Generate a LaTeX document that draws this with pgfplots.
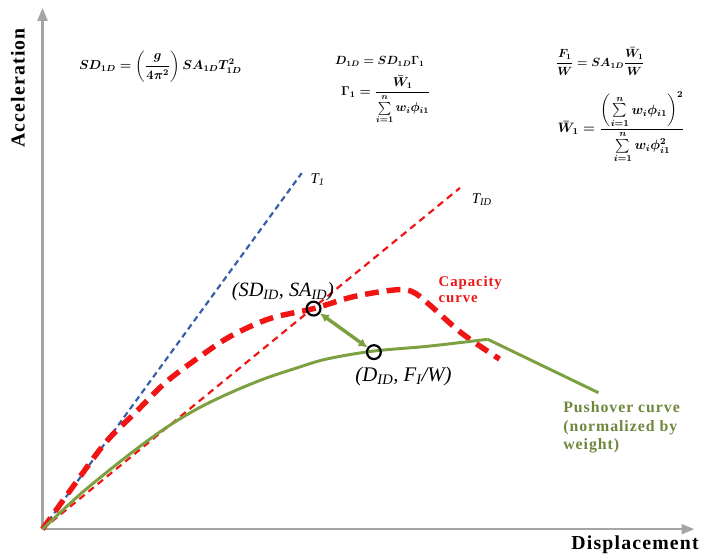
\documentclass[border=0pt]{standalone}
\usepackage{amsmath}
\usepackage{fontspec}
\setmainfont{Liberation Serif}
\usepackage{pgfplots}
\pgfplotsset{compat=1.18}
\usetikzlibrary{arrows.meta}
\newfontfamily\lblfont{Liberation Serif}[LetterSpace=6]
\definecolor{axgray}{RGB}{165,165,165}
\definecolor{cblue}{RGB}{55,95,165}
\definecolor{cred}{RGB}{240,20,20}
\definecolor{cgreen}{RGB}{125,160,65}
\definecolor{tgreen}{RGB}{110,135,60}
\begin{document}
\begin{tikzpicture}
\begin{axis}[
  scale only axis, width=659pt, height=527pt,
  xmin=0, xmax=659, ymin=0, ymax=527,
  axis lines=left,
  axis line style={draw=axgray, line width=2.5pt, -{Triangle[length=13pt,width=10pt]}},
  every outer x axis line/.append style={-{Triangle[length=13pt,width=10pt]}},
  every outer y axis line/.append style={-{Triangle[length=13pt,width=10pt]}},
  xtick=\empty, ytick=\empty,
  clip=false,
]
\path (axis cs:-43,-27) rectangle (axis cs:659,535);
% T1 line
\addplot[cblue, line width=2.2pt, dash pattern=on 6pt off 4pt] coordinates {(0,0) (262,360)};
% T1D line
\addplot[cred, line width=2.2pt, dash pattern=on 7pt off 5pt] coordinates {(0,0) (422,345)};
% capacity curve
\addplot[cred, line width=5.5pt, dash pattern=on 14pt off 8pt, smooth, tension=0.55] coordinates {
(0,0) (30,42) (64,88) (94,118) (124,148) (157,173) (190,195) (230,213) (274,223) (314,235) (357,242) (374,240) (390,228) (424,198) (462,172)};
% pushover curve
\addplot[cgreen, line width=3pt, smooth, tension=0.55] coordinates {
(0,0) (40,37) (87,75) (124,102) (157,122) (190,138) (224,152) (257,163) (287,172) (334,180) (390,185) (450,192)};
\addplot[cgreen, line width=3pt] coordinates {(450,192) (562,138)};
% double arrow
\addplot[cgreen, line width=3.5pt, {Latex[length=9pt,width=9pt]}-{Latex[length=9pt,width=9pt]}, shorten <=8pt, shorten >=8pt] coordinates {(274,223) (335,179)};
% circles
\addplot[only marks, mark=o, mark size=7pt, mark options={line width=2.2pt, draw=black}] coordinates {(274,223) (335,179)};
% labels
\node[font=\fontsize{15}{18}\selectfont\itshape] at (axis cs:278,353) {T\textsubscript{\textit{1}}};
\node[font=\fontsize{15}{18}\selectfont\itshape] at (axis cs:444,333) {T\textsubscript{\textit{ID}}};
\node[font=\fontsize{20.5}{24}\selectfont\itshape] at (axis cs:243,240) {(SD\textsubscript{\textit{ID}}, SA\textsubscript{\textit{ID}})};
\node[font=\fontsize{21}{24}\selectfont\itshape] at (axis cs:365,154) {(D\textsubscript{\textit{ID}}, F\textsubscript{\textit{I}}/W)};
\node[anchor=west, align=left, text=cred, font=\lblfont\fontsize{15}{16}\selectfont\bfseries] at (axis cs:397,242) {Capacity\\curve};
\node[anchor=west, align=left, text=tgreen, font=\lblfont\fontsize{16}{19}\selectfont\bfseries] at (axis cs:523,103) {Pushover curve\\(normalized by\\weight)};
\node[rotate=90, font=\lblfont\fontsize{20}{24}\selectfont\bfseries] at (axis cs:-25,446) {Acceleration};
\node[font=\lblfont\fontsize{20}{24}\selectfont\bfseries] at (axis cs:599,-16) {Displacement};
% formulas
\node[scale=1.1, font=\fontsize{12}{14}\selectfont\boldmath] at (axis cs:119,468) {$SD_{1D}=\left(\dfrac{g}{4\pi^2}\right)SA_{1D}T_{1D}^2$};
\node[font=\fontsize{12}{14}\selectfont\boldmath] at (axis cs:341,473) {$D_{1D}=SD_{1D}\Gamma_1$};
\node[scale=1.08, font=\fontsize{12}{14}\selectfont\boldmath] at (axis cs:347,434) {$\Gamma_1=\dfrac{\bar{W}_1}{\sum\limits_{i=1}^{n}w_i\phi_{i1}}$};
\node[font=\fontsize{12}{14}\selectfont\boldmath] at (axis cs:564,473) {$\dfrac{F_1}{W}=SA_{1D}\dfrac{\bar{W}_1}{W}$};
\node[scale=1.15, font=\fontsize{12}{14}\selectfont\boldmath] at (axis cs:585,406) {$\bar{W}_1=\dfrac{\left(\sum\limits_{i=1}^{n}w_i\phi_{i1}\right)^2}{\sum\limits_{i=1}^{n}w_i\phi_{i1}^2}$};
\end{axis}
\end{tikzpicture}
\end{document}
